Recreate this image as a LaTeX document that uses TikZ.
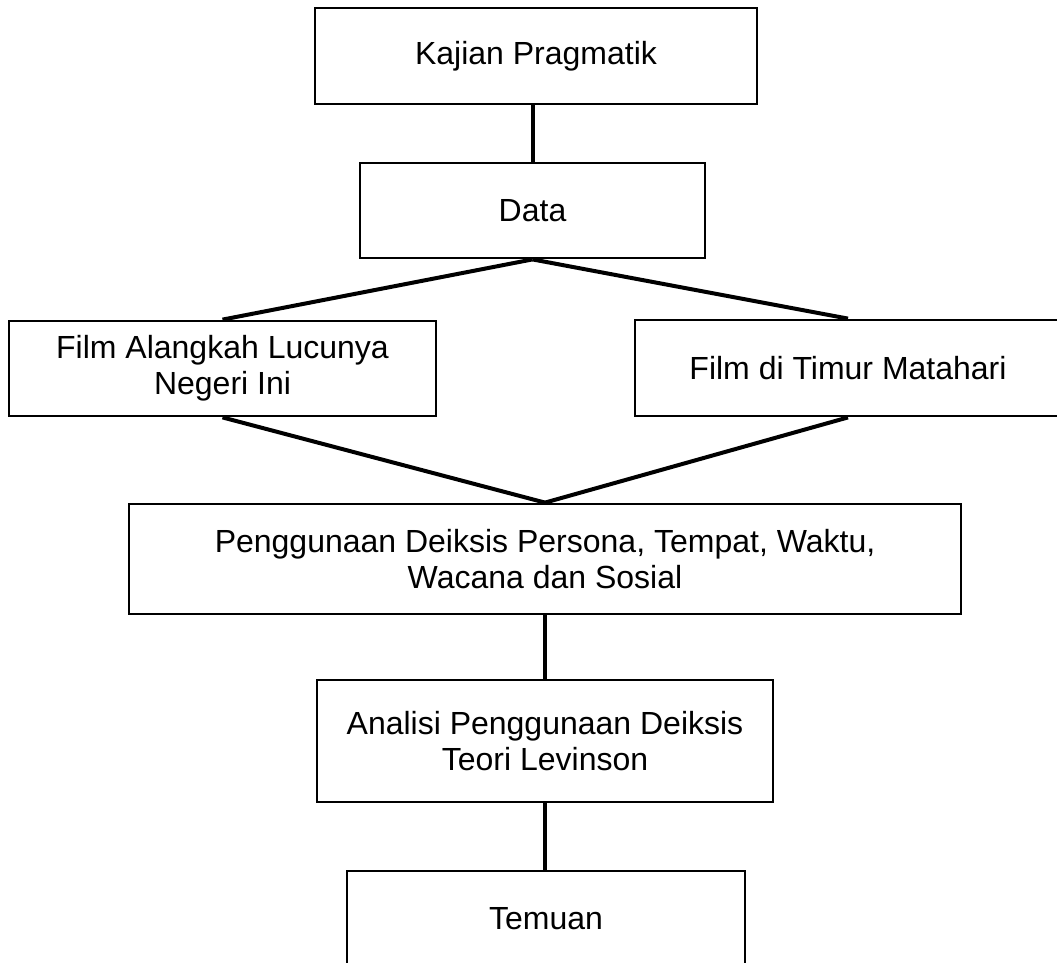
\documentclass[tikz,border=0pt]{standalone}
\usepackage{fontspec}
\setmainfont{Liberation Sans}
\begin{document}
\begin{tikzpicture}[x=1pt,y=-1pt,
  box/.style={draw=black, line width=2.8pt, inner sep=0pt, align=center,
    font=\fontsize{32}{36}\selectfont},
  conn/.style={line width=4pt}]
\useasboundingbox (0,0) rectangle (1057,962);
\clip (0,0) rectangle (1057,962);
\fill[white] (0,0) rectangle (1057,962);
\node[box, minimum width=442pt, minimum height=96pt] (kajian) at (536,56) {Kajian Pragmatik};
\node[box, minimum width=345pt, minimum height=95pt] (data) at (532.5,210.5) {Data};
\node[box, minimum width=427pt, minimum height=95pt] (film1) at (222.5,368.5) {Film Alangkah Lucunya\\Negeri Ini};
\node[box, minimum width=426pt, minimum height=96pt] (film2) at (848,368) {Film di Timur Matahari};
\node[box, minimum width=832pt, minimum height=110pt] (deiksis) at (545,559) {Penggunaan Deiksis Persona, Tempat, Waktu,\\Wacana dan Sosial};
\node[box, minimum width=456pt, minimum height=122pt] (analisi) at (545,741) {Analisi Penggunaan Deiksis\\Teori Levinson};
\node[box, minimum width=398pt, minimum height=96pt] (temuan) at (546,919) {Temuan};
\draw[conn] (data.north |- kajian.south) -- (data.north);
\draw[conn] (data.south) -- (film1.north);
\draw[conn] (data.south) -- (film2.north);
\draw[conn] (film1.south) -- (deiksis.north);
\draw[conn] (film2.south) -- (deiksis.north);
\draw[conn] (deiksis.south) -- (analisi.north);
\draw[conn] (analisi.south) -- (analisi.south |- temuan.north);
\end{tikzpicture}
\end{document}
